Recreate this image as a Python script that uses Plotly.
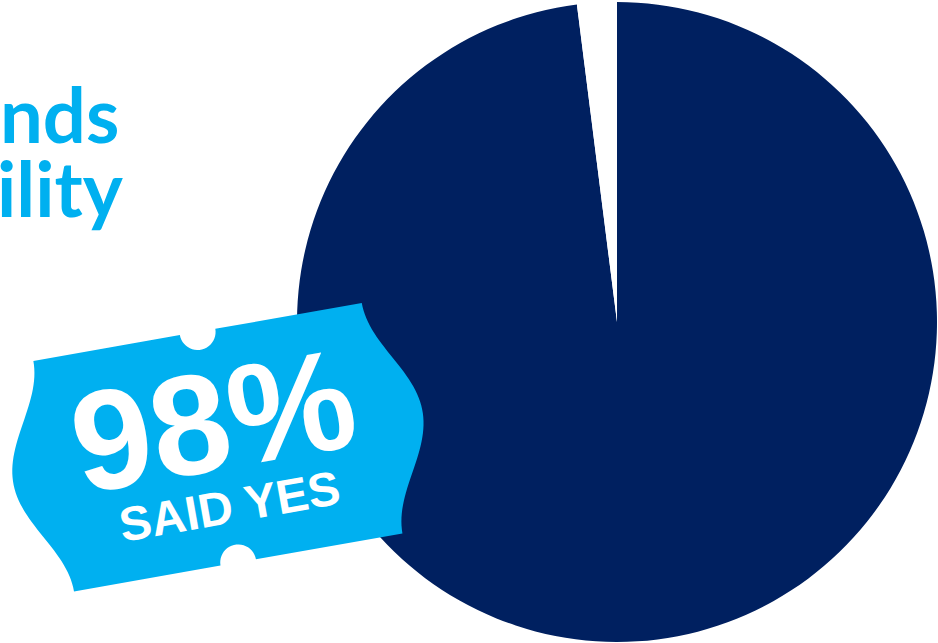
import numpy as np
import plotly.graph_objects as go

# Survey result
labels = ["Yes", "No"]
values = [98, 2]
slice_colors = ["#002060", "#FFFFFF"]

# Headline fragments on the left
headline_lines = ["nds", "ility"]
badge_caption = "SAID YES"

W_PX, H_PX = 938, 643
NAVY = "#002060"
CYAN = "#00B0F0"


def to_paper(px, py):
    return px / W_PX, 1 - py / H_PX


# Pie placement (pixel centre and radius)
cx, cy, r = 617, 322, 320
x0, _ = to_paper(cx - r, 0)
x1, _ = to_paper(cx + r, 0)
_, y0 = to_paper(0, cy + r)
_, y1 = to_paper(0, cy - r)

fig = go.Figure(
    go.Pie(
        labels=labels,
        values=values,
        marker=dict(colors=slice_colors, line=dict(width=0)),
        sort=False,
        direction="clockwise",
        rotation=0,
        textinfo="none",
        hoverinfo="skip",
        showlegend=False,
        domain=dict(x=[x0, x1], y=[y0, y1]),
    )
)

# Ticket-shaped badge: rectangle with bulging sides and round notches
tw, th = 333.5, 234.0
tcx, tcy = 217.9, 447.2
theta = np.deg2rad(10)
bump, notch = 41.0, 18.0

pts = [(0.0, 0.0)]
t = np.linspace(np.pi, 0, 24)
pts += [(tw / 2 + notch * np.cos(a), notch * np.sin(a)) for a in t]
v = np.linspace(0, th, 60)
pts += [(tw + bump * np.sin(np.pi * vv / th) ** 2, vv) for vv in v]
t = np.linspace(0, np.pi, 24)
pts += [(tw / 2 + notch * np.cos(a), th - notch * np.sin(a)) for a in t]
v = np.linspace(th, 0, 60)
pts += [(-bump * np.sin(np.pi * vv / th) ** 2, vv) for vv in v]

eu = np.array([np.cos(theta), -np.sin(theta)])
ev = np.array([np.sin(theta), np.cos(theta)])
path = []
for i, (u, vv) in enumerate(pts):
    p = np.array([tcx, tcy]) + (u - tw / 2) * eu + (vv - th / 2) * ev
    px, py = to_paper(*p)
    path.append(("M" if i == 0 else "L") + f"{px:.5f},{py:.5f}")
path_str = " ".join(path) + " Z"

fig.add_shape(
    type="path",
    path=path_str,
    xref="paper",
    yref="paper",
    fillcolor=CYAN,
    line=dict(width=0),
    layer="above",
)

# Badge text
bx, by = to_paper(213, 420)
fig.add_annotation(
    text=f"{values[0]}%",
    x=bx, y=by, xref="paper", yref="paper",
    xanchor="center", yanchor="middle",
    textangle=-10, showarrow=False,
    font=dict(family="Liberation Sans, Arial, sans-serif", size=142,
              color="white", weight="bold"),
)
sx, sy = to_paper(229, 506.7)
fig.add_annotation(
    text=badge_caption,
    x=sx, y=sy, xref="paper", yref="paper",
    xanchor="center", yanchor="middle",
    textangle=-10, showarrow=False,
    font=dict(family="Liberation Sans, Arial, sans-serif", size=48,
              color="white", weight="bold"),
)

# Headline text (right-aligned, running off the left edge)
for line, right_px, mid_px in zip(headline_lines, [120, 125], [113.6, 187.6]):
    hx, hy = to_paper(right_px, mid_px)
    fig.add_annotation(
        text=line,
        x=hx, y=hy, xref="paper", yref="paper",
        xanchor="right", yanchor="middle",
        showarrow=False, borderpad=0,
        font=dict(family="Lato, sans-serif", size=76, color=CYAN, weight="bold"),
    )

fig.update_layout(
    width=W_PX,
    height=H_PX,
    margin=dict(l=0, r=0, t=0, b=0),
    paper_bgcolor="white",
    plot_bgcolor="white",
    showlegend=False,
)

fig.write_html("out.html")
